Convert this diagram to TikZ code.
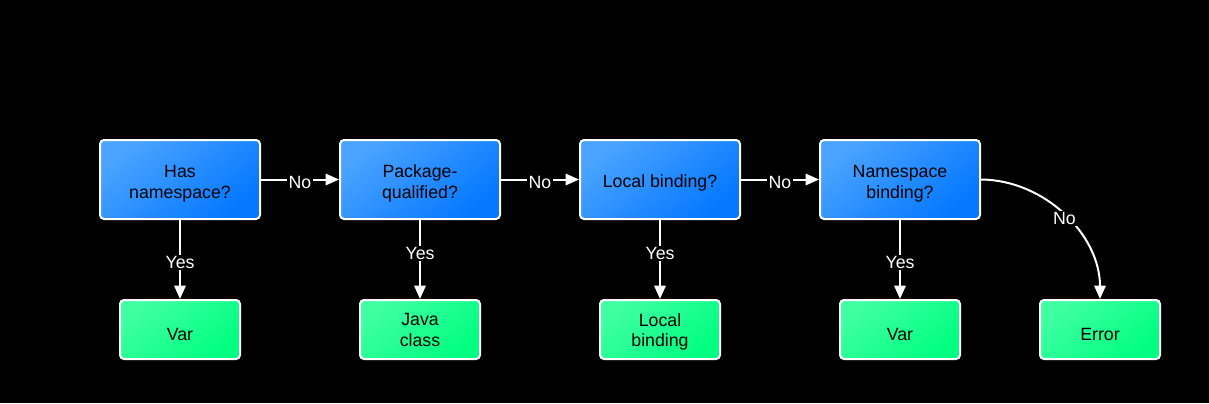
\documentclass[tikz,border=0pt]{standalone}
\usepackage{fontspec}
\setmainfont{Liberation Sans}
\usetikzlibrary{arrows.meta}
\definecolor{bluetl}{RGB}{74,163,255}
\definecolor{bluebr}{RGB}{5,120,255}
\definecolor{greentl}{RGB}{64,255,162}
\definecolor{greenbr}{RGB}{0,255,128}
\begin{document}
\begin{tikzpicture}[x=0.75pt,y=-0.75pt,
  font=\fontsize{13.3}{15.5}\selectfont,
  qbox/.style={draw=white, line width=1.5pt, rounded corners=3pt,
    minimum width=120pt, minimum height=59.25pt,
    shading=axis, top color=bluetl, bottom color=bluebr, shading angle=40},
  abox/.style={draw=white, line width=1.5pt, rounded corners=3pt,
    minimum width=90pt, minimum height=44.25pt,
    shading=axis, top color=greentl, bottom color=greenbr, shading angle=40},
  txt/.style={align=center, text=black, inner sep=0pt},
  conn/.style={draw=white, line width=1.5pt, -{Triangle[length=10pt,width=8.5pt]}},
  lbl/.style={fill=black, text=white, inner sep=1pt},
  nolbl/.style={lbl, yshift=-2.3pt}]
\fill[black] (0,0) rectangle (1209,403);
\useasboundingbox (0,0) rectangle (1209,403);
\node[qbox, label={[txt, yshift=-3.1pt]center:{Has\\namespace?}}] (q1) at (180,179.5) {};
\node[qbox, label={[txt, yshift=-3.1pt]center:{Package-\\qualified?}}] (q2) at (420,179.5) {};
\node[qbox, label={[txt, yshift=-2.4pt]center:{Local binding?}}] (q3) at (660,179.5) {};
\node[qbox, label={[txt, yshift=-3.1pt]center:{Namespace\\binding?}}] (q4) at (900,179.5) {};
\node[abox, label={[txt, yshift=-3.4pt]center:{Var}}] (a1) at (180,329.5) {};
\node[abox, label={[txt, yshift=-0.4pt]center:{Java\\class}}] (a2) at (420,329.5) {};
\node[abox, label={[txt, yshift=-1.8pt]center:{Local\\binding}}] (a3) at (660,329.5) {};
\node[abox, label={[txt, yshift=-3.4pt]center:{Var}}] (a4) at (900,329.5) {};
\node[abox, label={[txt, yshift=-3.4pt]center:{Error}}] (a5) at (1100,329.5) {};
\draw[conn] (q1) -- node[nolbl] {No} (q2);
\draw[conn] (q2) -- node[nolbl] {No} (q3);
\draw[conn] (q3) -- node[nolbl] {No} (q4);
\draw[conn] (q1) -- node[lbl, pos=0.54] {Yes} (a1);
\draw[conn] (q2) -- node[lbl, pos=0.43] {Yes} (a2);
\draw[conn] (q3) -- node[lbl, pos=0.43] {Yes} (a3);
\draw[conn] (q4) -- node[lbl, pos=0.54] {Yes} (a4);
\draw[conn] (q4.east) .. controls (1045,180) and (1100,235) .. node[nolbl, pos=0.5] {No} (a5.north);
\end{tikzpicture}
\end{document}
